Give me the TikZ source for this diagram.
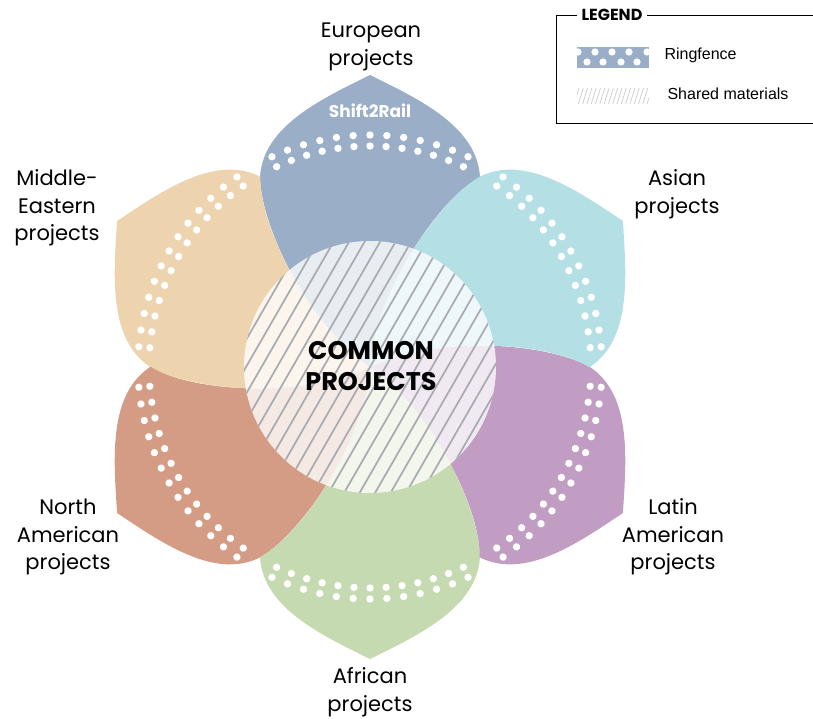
\documentclass[tikz,border=0pt]{standalone}
\usepackage{fontspec}
\setmainfont{Poppins}
\newfontfamily\legendfont{Liberation Sans}
\definecolor{euro}{HTML}{9AAFC7}
\definecolor{asia}{HTML}{B3DFE5}
\definecolor{latam}{HTML}{C19CC3}
\definecolor{africa}{HTML}{C5DAB0}
\definecolor{namer}{HTML}{D49B85}
\definecolor{mideast}{HTML}{EDD4AE}
\definecolor{hatchgray}{RGB}{168,170,175}
\tikzset{
	region/.style={font=\fontsize{21}{27.5}\selectfont, align=center},
	ringdot/.style={fill=white},
	hatch/.style={draw=hatchgray, line width=1.7pt},
	legendtext/.style={font=\legendfont\fontsize{16}{19}\selectfont, anchor=west},
}

\begin{document}
\begin{tikzpicture}[x=1pt,y=-1pt]
		\useasboundingbox (0,0) rectangle (813,719);
		\pgfmathsetmacro\STEP{50/12}
		% petals, turned round the centre
		\foreach \ang/\col in {0/euro,60/mideast,120/namer,180/africa,240/latam,300/asia}{
			\begin{scope}[shift={(370,367)},rotate=\ang]
				\fill[\col] (0,0) .. controls (-61,-41) and (-109,-140) .. (-110,-190)
					.. controls (-107,-240) and (-51,-267) .. (0,-292)
					.. controls (51,-267) and (107,-240) .. (110,-190)
					.. controls (68,-168) and (5,-73) .. (0,0) -- cycle;
				\foreach \i in {0,...,12}{
					\fill[ringdot] ({245+\i*\STEP}:232) circle (3.7);
					\fill[ringdot] ({245+\i*\STEP}:221) circle (3.7);
				}
			\end{scope}
		}
		% shared centre
		\fill[white,fill opacity=0.78] (370,367) circle (126);
		\begin{scope}
			\clip (370,367) circle (126);
			\foreach \k in {-11,...,11}
				\draw[hatch] (370+\k*15.5-80,367+139) -- ++(160,-278);
		\end{scope}
		\node[font=\bfseries\fontsize{25.5}{31}\selectfont, align=center] (common) at (371,366) {COMMON\\PROJECTS};
		\node[text=white, font=\bfseries\fontsize{17}{20}\selectfont] (s2r) at (370,111) {Shift2Rail};

		\node[region] (europe) at (371,47) {European\\projects};
		\node[region] (asian) at (677,194) {Asian\\projects};
		\node[region] (mideastern) at (57,208) {Middle-\\Eastern\\projects};
		\node[region] (northam) at (68,537) {North\\American\\projects};
		\node[region] (latinam) at (673,537) {Latin\\American\\projects};
		\node[region] (african) at (370,692) {African\\projects};

		% legend
		\draw[line width=0.8pt] (813,15) -- (556,15) -- (556,123) -- (813,123);
		\node[fill=white, inner xsep=5pt, font=\bfseries\fontsize{16}{19}\selectfont] (legend) at (612,15) {LEGEND};
		\begin{scope}
			\clip (577,47) rectangle (649,68);
			\fill[euro] (577,47) rectangle (649,68);
			\foreach \x in {578,595,612,629,647} \fill[ringdot] (\x,52) circle (3.6);
			\foreach \x in {587,603,621,637} \fill[ringdot] (\x,62) circle (3.6);
		\end{scope}
		\begin{scope}
			\clip (577,88) rectangle (649,104);
			\foreach \k in {0,...,17} \draw[hatchgray!60, line width=0.7pt] (574+\k*4.3,104) -- ++(5,-16);
		\end{scope}
		\node[legendtext] (ring) at (661,55) {Ringfence};
		\node[legendtext] (shared) at (664,94) {Shared materials};
\end{tikzpicture}
\end{document}
